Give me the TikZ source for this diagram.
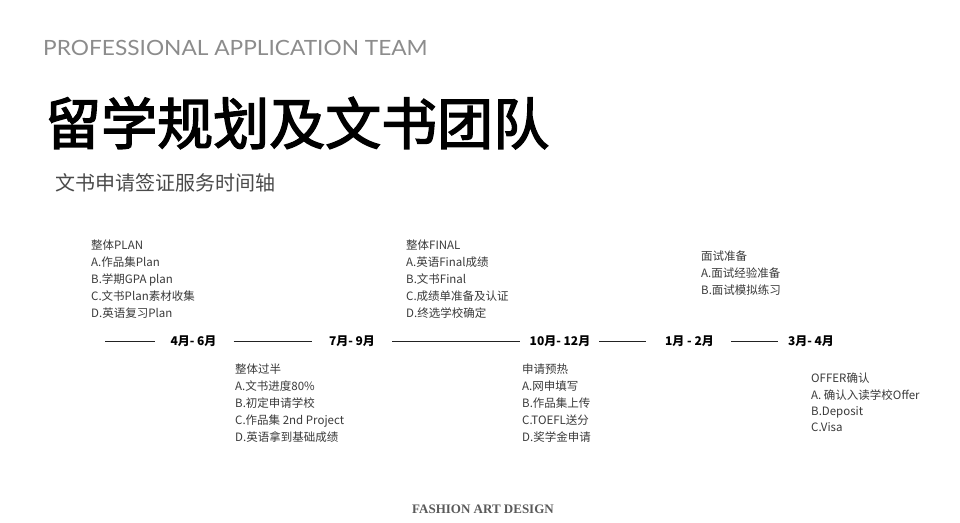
\documentclass[tikz,border=0pt]{standalone}
\usepackage{fontspec}
\newfontfamily\cjk{Noto Sans CJK SC}
\newfontfamily\cjkb{Noto Sans CJK SC}[FakeBold=2.5]
\newfontfamily\hdr{Lato}
\newfontfamily\ftr{Liberation Serif}
\definecolor{hdrgray}{HTML}{8C8C8C}
\definecolor{subgray}{HTML}{4A4A4A}
\definecolor{bodygray}{HTML}{3A3A3A}
\definecolor{linecol}{HTML}{222222}
\definecolor{ftrgray}{HTML}{5A5A5A}
\tikzset{
  block/.style={anchor=north west, inner sep=0pt, align=left, text=bodygray,
    font=\cjk\fontsize{11.5}{16.9}\selectfont},
  period/.style={inner sep=0pt, text=black, font=\cjk\bfseries\fontsize{12}{14}\selectfont},
  tl/.style={draw=linecol, line width=0.9pt}
}
\begin{document}
\begin{tikzpicture}[x=1pt,y=-1pt]
\useasboundingbox[fill=white] (0,0) rectangle (960,522);
% header
\node[anchor=west, inner sep=0pt, text=hdrgray, font=\hdr\fontsize{21}{22}\selectfont] (hdr) at (43,48) {\scalebox{1.08}[1]{PROFESSIONAL APPLICATION TEAM}};
\node[anchor=west, inner sep=0pt, text=black, font=\cjkb\fontsize{56}{60}\selectfont] (title) at (45,123) {留学规划及文书团队};
\node[anchor=west, inner sep=0pt, text=subgray, font=\cjk\fontsize{20}{22}\selectfont] (sub) at (55,183) {文书申请签证服务时间轴};
% timeline
\coordinate (t0) at (105,341);
\node[period] (p1) at (193.5,341) {4月- 6月};
\node[period] (p2) at (352,341) {7月- 9月};
\node[period] (p3) at (560,341) {10月- 12月};
\node[period] (p4) at (689.5,341) {1月 - 2月};
\node[period] (p5) at (811,341) {3月- 4月};
\draw[tl, shorten >=15pt] (t0) -- (p1);
\draw[tl, shorten <=17pt, shorten >=17pt] (p1) -- (p2);
\draw[tl, shorten <=17pt, shorten >=10pt] (p2) -- (p3);
\draw[tl, shorten <=9pt, shorten >=19pt] (p3) -- (p4);
\draw[tl, shorten <=17pt, shorten >=10pt] (p4) -- (p5);
% blocks
\node[block] (b1) at (91,240) {整体PLAN\\A.作品集Plan\\B.学期GPA plan\\C.文书Plan素材收集\\D.英语复习Plan};
\node[block] (b2) at (235,364) {整体过半\\A.文书进度80\%\\B.初定申请学校\\C.作品集 2nd Project\\D.英语拿到基础成绩};
\node[block] (b3) at (406,240) {整体FINAL\\A.英语Final成绩\\B.文书Final\\C.成绩单准备及认证\\D.终选学校确定};
\node[block] (b4) at (522,364) {申请预热\\A.网申填写\\B.作品集上传\\C.TOEFL送分\\D.奖学金申请};
\node[block] (b5) at (701,251) {面试准备\\A.面试经验准备\\B.面试模拟练习};
\node[block, font=\cjk\fontsize{11.5}{16.2}\selectfont] (b6) at (811,373) {OFFER确认\\A. 确认入读学校Offer\\B.Deposit\\C.Visa};
% footer
\node[inner sep=0pt, text=ftrgray, font=\ftr\bfseries\fontsize{13}{14}\selectfont] (ftr) at (483,509) {FASHION ART DESIGN};
\end{tikzpicture}
\end{document}
